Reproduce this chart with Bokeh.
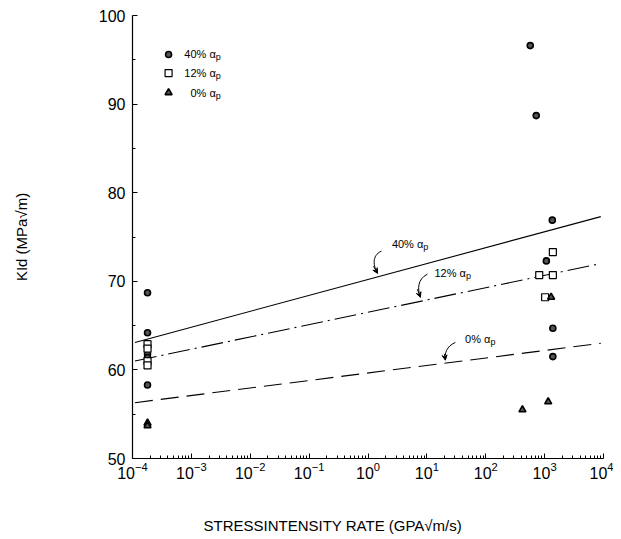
from bokeh.plotting import figure
from bokeh.models import FixedTicker, Range1d, Title, Arrow, VeeHead
from bokeh.embed import file_html
from bokeh.resources import INLINE
from bokeh.core.properties import value

FONT = "Liberation Sans"

# ---- data ----
x40 = [1.8e-4, 1.8e-4, 1.8e-4, 1.8e-4, 1.8e-4, 570, 720, 1350, 1070, 1380, 1380]
y40 = [68.7, 64.2, 61.8, 61.4, 58.3, 96.6, 88.7, 76.9, 72.3, 64.7, 61.5]
x12 = [1.8e-4, 1.8e-4, 1.8e-4, 1.8e-4, 1380, 810, 1380, 1020]
y12 = [62.9, 62.4, 61.0, 60.5, 73.3, 70.7, 70.7, 68.2]
x0 = [1.8e-4, 1.8e-4, 420, 1150, 1290]
y0 = [54.0, 53.7, 55.5, 56.4, 68.2]

fit_x = [1.1e-4, 9.0e3]
fit40 = [63.1, 77.3]
fit12 = [61.0, 72.0]
fit0 = [56.3, 63.0]

x_exponents = [-4, -3, -2, -1, 0, 1, 2, 3, 4]
y_ticks = [50, 60, 70, 80, 90, 100]
y_minor = [55, 65, 75, 85, 95]

legend_names = ["40% \u03b1", "12% \u03b1", "0% \u03b1"]
legend_marker_x = [4.1e-4, 4.1e-4, 4.1e-4]
legend_y = [95.6, 93.5, 91.3]
legend_text_x = [2.6e-3, 2.6e-3, 2.6e-3]

ann_names = ["40% \u03b1", "12% \u03b1", "0% \u03b1"]
ann_x = [8.7, 46.0, 120.0]
ann_y = [74.2, 70.9, 63.5]
# curved arrows: start, control1, control2, end
arr_x0 = [1.69, 10.2, 30.5]
arr_y0 = [73.4, 70.8, 63.1]
arr_cx0 = [1.14, 6.9, 21.4]
arr_cy0 = [72.9, 70.25, 62.67]
arr_cx1 = [1.24, 6.9, 19.8]
arr_cy1 = [71.7, 69.1, 61.8]
arr_x1 = [1.45, 7.76, 20.6]
arr_y1 = [70.9, 68.2, 61.1]

p = figure(width=613, height=536, x_axis_type="log",
           x_range=Range1d(1e-4, 1e4), y_range=Range1d(50, 100),
           output_backend="svg", toolbar_location=None,
           min_border_left=132, min_border_right=10,
           min_border_top=15, min_border_bottom=78)
p.outline_line_color = None
p.xgrid.visible = False
p.ygrid.visible = False
p.background_fill_color = "white"
p.border_fill_color = "white"

# axes
p.xaxis.ticker = FixedTicker(ticks=[10.0 ** e for e in x_exponents],
                             minor_ticks=[m * 10.0 ** e for e in x_exponents[:-1] for m in range(2, 10)])
p.yaxis.ticker = FixedTicker(ticks=y_ticks, minor_ticks=y_minor)
for ax in (p.xaxis, p.yaxis):
    ax.axis_line_color = "black"
    ax.axis_line_width = 1.2
    ax.major_tick_in = 5
    ax.major_tick_out = 0
    ax.minor_tick_in = 3
    ax.minor_tick_out = 0
    ax.major_tick_line_color = "black"
    ax.minor_tick_line_color = "black"
    ax.major_label_text_font = FONT
    ax.major_label_text_font_size = "16px"
    ax.major_label_text_color = "black"
    ax.axis_label_text_font = FONT
    ax.axis_label_text_font_style = "normal"
    ax.axis_label_text_font_size = "15px"
    ax.axis_label_text_color = "black"
p.xaxis.major_label_standoff = 3
p.yaxis.major_label_standoff = 7
p.yaxis.axis_label = "KId (MPa\u221am)"
p.yaxis.axis_label_standoff = 66

# fitted lines
p.line(fit_x, fit40, line_color="black", line_width=1.1)
p.line(fit_x, fit12, line_color="black", line_width=1.1, line_dash="22 5 2 5")
p.line(fit_x, fit0, line_color="black", line_width=1.1, line_dash="18 8")

# data points
p.scatter(x40, y40, marker="circle", size=6, fill_color="#555555", line_color="black", line_width=1.6)
p.scatter(x12, y12, marker="square", size=7, fill_color="white", line_color="black", line_width=1.2)
p.scatter(x0, y0, marker="triangle", size=7, fill_color="#555555", line_color="black", line_width=1.6)

# legend (manual, to allow the subscript p)
p.scatter(legend_marker_x[0:1], legend_y[0:1], marker="circle", size=6, fill_color="#555555", line_color="black", line_width=1.6)
p.scatter(legend_marker_x[1:2], legend_y[1:2], marker="square", size=7, fill_color="white", line_color="black", line_width=1.2)
p.scatter(legend_marker_x[2:3], legend_y[2:3], marker="triangle", size=7, fill_color="#555555", line_color="black", line_width=1.6)
p.text(legend_text_x, legend_y, text=legend_names, text_align="right", text_baseline="middle",
       text_font=value(FONT), text_font_size=value("11px"), text_color="black")
p.text(legend_text_x, legend_y, text=["p", "p", "p"], text_align="left", text_baseline="middle",
       y_offset=3, text_font=value(FONT), text_font_size=value("9px"), text_color="black")

# line annotations
p.text(ann_x, ann_y, text=ann_names, text_align="right", text_baseline="middle",
       text_font=value(FONT), text_font_size=value("11px"), text_color="black")
p.text(ann_x, ann_y, text=["p", "p", "p"], text_align="left", text_baseline="middle",
       y_offset=3, text_font=value(FONT), text_font_size=value("9px"), text_color="black")
p.bezier(x0=arr_x0, y0=arr_y0, x1=arr_x1, y1=arr_y1, cx0=arr_cx0, cy0=arr_cy0,
         cx1=arr_cx1, cy1=arr_cy1, line_color="black", line_width=1)
for i in range(3):
    p.add_layout(Arrow(end=VeeHead(size=5, line_color="black", line_width=1, fill_color="black"),
                       x_start=arr_cx1[i], y_start=arr_cy1[i], x_end=arr_x1[i], y_end=arr_y1[i],
                       line_color="black", line_width=1))

# x-axis title (placed left of centre, as in the reference), pushed down by a spacer
spacer = Title(text=" ", align="left", text_font=FONT, text_font_size="2px", text_color="white")
xt = Title(text="STRESSINTENSITY RATE (GPA\u221am/s)", align="left", offset=71,
           text_font=FONT, text_font_size="15px", text_font_style="normal", text_color="black")
try:
    spacer.standoff = 29
    xt.standoff = 0
except AttributeError:
    pass
p.add_layout(spacer, "below")
p.add_layout(xt, "below")

open("out.html", "w").write(file_html(p, INLINE))
